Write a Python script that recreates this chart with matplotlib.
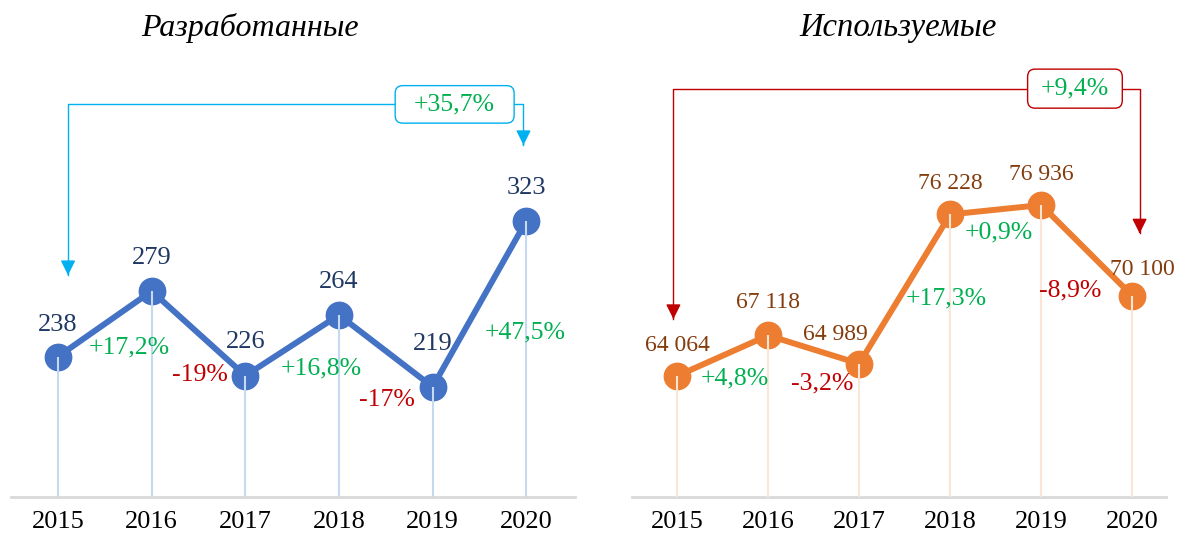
import matplotlib.pyplot as plt
from matplotlib.patches import FancyBboxPatch

years = ["2015", "2016", "2017", "2018", "2019", "2020"]

dev_values = [238, 279, 226, 264, 219, 323]
dev_labels = ["238", "279", "226", "264", "219", "323"]
dev_changes = ["+17,2%", "-19%", "+16,8%", "-17%", "+47,5%"]
dev_total = "+35,7%"

use_values = [64064, 67118, 64989, 76228, 76936, 70100]
use_labels = ["64 064", "67 118", "64 989", "76 228", "76 936", "70 100"]
use_changes = ["+4,8%", "-3,2%", "+17,3%", "+0,9%", "-8,9%"]
use_total = "+9,4%"

GREEN = "#00B050"
RED = "#C00000"
SERIF = "Liberation Serif"
FS_PCT = 18.5

plt.rcParams['font.family'] = [SERIF, 'DejaVu Serif']

fig = plt.figure(figsize=(11.78, 5.41), dpi=100)
W, H = 1178, 541


def axes_px(x0, x1, ybot):
    return fig.add_axes([x0 / W, (H - ybot) / H, (x1 - x0) / W, ybot / H])


def panel(ax, values, labels, changes, xlim, ylim, color, stem_color,
          label_color, label_fs, label_off, change_pos):
    x = list(range(len(values)))
    ax.set_xlim(*xlim)
    ax.set_ylim(*ylim)
    ax.plot(x, values, color=color, lw=4.3, marker="o", ms=19,
            solid_capstyle="round", zorder=3)
    ax.vlines(x, ylim[0], values, color=stem_color, lw=1.5, zorder=4)
    for xi, v, lab, (dx, dy) in zip(x, values, labels, label_off):
        ax.annotate(lab, (xi, v), xytext=(dx, dy), textcoords="offset points",
                    ha="center", va="center", fontsize=label_fs,
                    color=label_color, zorder=5)
    for txt, (px, py) in zip(changes, change_pos):
        ax.text(px, py, txt, ha="center", va="center", fontsize=FS_PCT,
                color=RED if txt.startswith("-") else GREEN, zorder=5)
    for s in ["top", "left", "right"]:
        ax.spines[s].set_visible(False)
    ax.spines["bottom"].set_color("#D9D9D9")
    ax.spines["bottom"].set_linewidth(2)
    ax.set_yticks([])
    ax.set_xticks(x)
    ax.set_xticklabels(years, fontsize=19)
    ax.tick_params(axis="x", length=0, pad=10)
    ax.patch.set_alpha(0)


def bracket(ax, xl, xr, ytop, ytip_l, ytip_r, box_x, box_w, box_h, text, color):
    # horizontal line with arrows down on both ends, label box in the line
    ax.plot([xl, xl, xr, xr], [ytip_l, ytop, ytop, ytip_r], color=color, lw=1,
            clip_on=False, zorder=2)
    for xa, ya in [(xl, ytip_l), (xr, ytip_r)]:
        ax.annotate("", xy=(xa, ya), xytext=(xa, ya + (ytop - ya) * 0.01),
                    arrowprops=dict(arrowstyle="-|>,head_length=0.9,head_width=0.45",
                                    color=color, lw=1, shrinkA=0, shrinkB=0),
                    annotation_clip=False)
    box = FancyBboxPatch((box_x - box_w / 2, ytop - box_h / 2), box_w, box_h,
                         boxstyle="round,pad=0,rounding_size=0.08",
                         mutation_aspect=(box_h / 0.4),
                         fc="white", ec=color, lw=1, clip_on=False, zorder=3)
    ax.add_patch(box)
    ax.text(box_x, ytop, text, ha="center", va="center", fontsize=FS_PCT,
            color=GREEN, zorder=4)


# left panel
ax1 = axes_px(11, 575, 497)
panel(ax1, dev_values, dev_labels, dev_changes, (-0.502, 5.52), (150, 461.4),
      "#4472C4", "#C5D9F1", "#1F3864", 19,
      [(0, 23), (0, 24), (0, 24), (0, 24), (0, 31), (0, 24)],
      [(0.76, 243.4), (1.52, 226.4), (2.81, 230.8), (3.51, 210.8), (4.99, 252.8)])
bracket(ax1, 0.107, 4.97, 396, 289, 370.5, 4.235, 1.27, 23.5, dev_total, "#00B0F0")

# right panel
ax2 = axes_px(632, 1166, 497)
panel(ax2, use_values, use_labels, use_changes, (-0.495, 5.37), (54950, 92375),
      "#ED7D31", "#FBE5D6", "#843C0C", 17,
      [(0, 22), (0, 24), (-17, 21), (0, 22), (0, 22), (7, 19)],
      [(0.64, 63911), (1.59, 63534), (2.96, 69935), (3.53, 74905), (4.32, 70537)])
bracket(ax2, -0.04, 5.08, 85700, 68350, 74800, 4.37, 1.04, 2940, use_total, "#C00000")

fig.text(250 / W, 1 - 28 / H, "Разработанные", ha="center", va="center",
         fontsize=23, style="italic")
fig.text(898 / W, 1 - 28 / H, "Используемые", ha="center", va="center",
         fontsize=23.5, style="italic")

fig.savefig("out.png", dpi=100, facecolor="white")
